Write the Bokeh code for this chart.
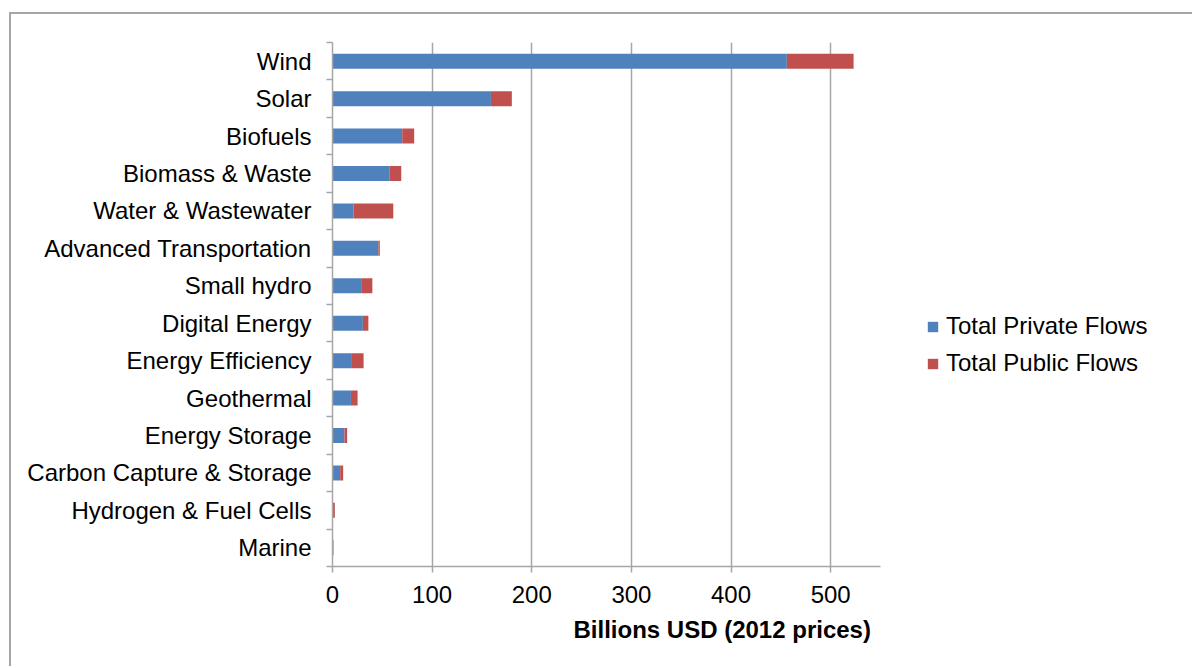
from bokeh.plotting import figure
from bokeh.models import (ColumnDataSource, Range1d, FixedTicker, Legend, LegendItem, Title)
from bokeh.embed import file_html
from bokeh.resources import INLINE

# Technology categories, listed from the top of the chart downwards
technologies = [
    "Wind", "Solar", "Biofuels", "Biomass & Waste", "Water & Wastewater",
    "Advanced Transportation", "Small hydro", "Digital Energy",
    "Energy Efficiency", "Geothermal", "Energy Storage",
    "Carbon Capture & Storage", "Hydrogen & Fuel Cells", "Marine",
]
# Billions USD (2012 prices)
private_flows = [456, 159, 70, 57, 21, 46, 29.5, 30.5, 19.5, 18.5, 12, 7.7, 1.7, 0.3]
public_flows = [67, 21, 12, 12, 40, 1.5, 10.5, 5.5, 11.7, 6.7, 2.7, 3.0, 0.8, 0.7]
x_ticks = [0, 100, 200, 300, 400, 500]
x_max = 550

FONT = "Liberation Sans"
GREY = "#a6a6a6"
BLUE = "#4f81bd"
RED = "#c0504d"

# canvas geometry (pixels)
W, H = 1183, 654
LEFT, TOP, BOTTOM = 321, 28, 102
AXIS_PX = 548            # pixel length of the value axis (0 .. x_max)
frame_w = W - LEFT       # frame runs to the right edge so the legend can sit in it

n = len(technologies)
y_pos = [n - 0.5 - i for i in range(n)]

src = ColumnDataSource(dict(
    y=y_pos, name=technologies, private=private_flows, public=public_flows,
))

p = figure(
    width=W, height=H,
    x_range=Range1d(0, x_max * frame_w / AXIS_PX), y_range=Range1d(0, n),
    output_backend="svg", toolbar_location=None,
    min_border_left=LEFT, min_border_top=TOP, min_border_right=0, min_border_bottom=BOTTOM,
)
p.margin = (12, 0, 0, 9)
p.styles = {"border-left": f"2px solid {GREY}", "border-top": f"2px solid {GREY}"}
p.outline_line_color = None
p.background_fill_color = "white"
p.border_fill_color = "white"

renderers = p.hbar_stack(["private", "public"], y="y", height=0.4, source=src,
                         color=[BLUE, RED], line_color=None)

# x axis
p.xaxis.ticker = FixedTicker(ticks=x_ticks)
p.xaxis.bounds = (0, x_max)
p.xaxis.axis_line_color = GREY
p.xaxis.axis_line_width = 1.5
p.xaxis.major_tick_line_color = GREY
p.xaxis.major_tick_line_width = 1.5
p.xaxis.major_tick_out = 6
p.xaxis.major_tick_in = 0
p.xaxis.minor_tick_line_color = None
p.xaxis.major_label_text_font = FONT
p.xaxis.major_label_text_font_size = "24px"
p.xaxis.major_label_text_color = "#000000"
p.xaxis.major_label_standoff = 13

# y axis: labels at category centres, tick marks on the boundaries
p.yaxis.ticker = FixedTicker(ticks=y_pos, minor_ticks=list(range(n + 1)))
p.yaxis.major_label_overrides = {y: t for y, t in zip(y_pos, technologies)}
p.yaxis.axis_line_color = GREY
p.yaxis.axis_line_width = 1.5
p.yaxis.major_tick_line_color = None
p.yaxis.major_tick_out = 0
p.yaxis.major_tick_in = 0
p.yaxis.minor_tick_line_color = GREY
p.yaxis.minor_tick_line_width = 1.5
p.yaxis.minor_tick_out = 6
p.yaxis.minor_tick_in = 0
p.yaxis.major_label_text_font = FONT
p.yaxis.major_label_text_font_size = "24px"
p.yaxis.major_label_text_color = "#000000"
p.yaxis.major_label_standoff = 15

p.xgrid.grid_line_color = GREY
p.xgrid.grid_line_width = 1.5
p.ygrid.grid_line_color = None

# axis title under the x axis
p.add_layout(Title(text="Billions USD (2012 prices)", align="left", offset=241,
                   text_font=FONT, text_font_size="24px", text_font_style="bold",
                   text_color="#000000", standoff=16), "below")

legend = Legend(items=[
    LegendItem(label="Total Private Flows", renderers=[renderers[0]]),
    LegendItem(label="Total Public Flows", renderers=[renderers[1]]),
], location=(594, 189))
legend.border_line_color = None
legend.background_fill_alpha = 0
legend.padding = 0
legend.margin = 0
legend.glyph_width = 13
legend.glyph_height = 13
legend.label_height = 20
legend.spacing = 9
legend.label_standoff = 7
legend.label_text_font = FONT
legend.label_text_font_size = "24px"
legend.label_text_color = "#000000"
legend.label_text_baseline = "middle"
p.add_layout(legend, "center")

open("out.html", "w").write(file_html(p, INLINE))
